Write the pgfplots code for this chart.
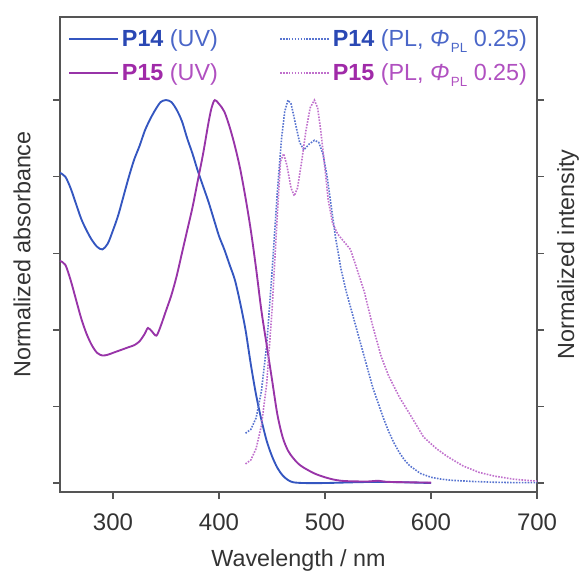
\documentclass[border=0pt]{standalone}
\usepackage{pgfplots}
\pgfplotsset{compat=1.18}
\usepackage{fontspec}
\setmainfont{Liberation Sans}
\definecolor{bluA}{HTML}{3456C0}
\definecolor{magA}{HTML}{9834A8}
\definecolor{bluP}{HTML}{5874D0}
\definecolor{magP}{HTML}{C070CC}
\definecolor{bluT}{HTML}{2A48B4}
\definecolor{bluL}{HTML}{4A66C8}
\definecolor{magT}{HTML}{A02AA8}
\definecolor{magL}{HTML}{B050C0}
\definecolor{axgray}{HTML}{555555}
\definecolor{txgray}{HTML}{333333}
\newcommand{\phipl}{{\itshape Φ}\kern1pt\raisebox{-0.5ex}{\fontsize{10}{12}\selectfont PL}}
\begin{document}
\begin{tikzpicture}[x=1pt,y=1pt]
\begin{axis}[
  scale only axis,
  width=357.75pt, height=356.25pt,
  xmin=250, xmax=700, ymin=-0.0235, ymax=1.217,
  xtick={300,400,500,600,700},
  ytick={0,0.2,0.4,0.6,0.8,1.0},
  yticklabels={},
  xtick pos=bottom,
  tick align=outside,
  major tick length=5pt,
  axis line style={axgray, line width=1.2pt},
  every tick/.style={axgray, line width=1pt},
  tick label style={font=\fontsize{18}{21}\selectfont, text=txgray},
  xticklabel style={yshift=-7.5pt},
  /pgf/number format/assume math mode=true,
  xlabel={Wavelength / nm},
  xlabel style={font=\fontsize{17.5}{20}\selectfont, text=txgray, at={(rel axis cs:0.5,-0.145)}, anchor=center},
  ylabel={Normalized absorbance},
  ylabel style={font=\fontsize{17.5}{20}\selectfont, text=txgray, at={(rel axis cs:-0.0797,0.5)}, anchor=center, rotate=0},
  clip=false,
  legend columns=2,
  legend cell align=left,
  legend style={draw=none, fill=none, at={(rel axis cs:0.008,0.985)}, anchor=north west,
    font=\fontsize{17.5}{20}\selectfont, row sep=7pt,
    /tikz/every even column/.style={column sep=44pt}},
  legend image code/.code={\draw[#1] (0pt,0pt) -- (37pt,0pt);},
]
% P14 UV
\addplot[bluA, line width=1.4pt, smooth] coordinates {
(250,0.81)(255,0.80)(260,0.77)(265,0.73)(270,0.69)(275,0.66)(280,0.635)(285,0.617)(290,0.61)(295,0.625)
(300,0.66)(305,0.70)(310,0.75)(315,0.80)(320,0.845)(325,0.88)(330,0.92)(335,0.95)(340,0.975)(345,0.995)
(350,1.0)(355,0.995)(360,0.975)(365,0.945)(370,0.90)(375,0.86)(380,0.815)(385,0.775)(390,0.735)(395,0.69)
(400,0.645)(405,0.61)(410,0.57)(415,0.53)(420,0.47)(425,0.40)(430,0.31)(435,0.23)(440,0.165)(445,0.11)
(450,0.07)(455,0.04)(460,0.02)(465,0.008)(470,0.002)(480,0)(500,0)(550,0.003)(600,0)};
% P14 PL
\addplot[bluP, line width=1.2pt, densely dotted] coordinates {
(425,0.13)(430,0.14)(435,0.17)(440,0.24)(445,0.36)(450,0.55)(455,0.76)(459,0.90)(462,0.97)(465,1.0)
(468,0.99)(472,0.94)(476,0.89)(480,0.87)(485,0.885)(490,0.895)(494,0.89)(498,0.86)(502,0.80)(505,0.74)
(510,0.64)(515,0.56)(520,0.50)(525,0.45)(530,0.40)(535,0.35)(540,0.30)(545,0.25)(550,0.21)(555,0.17)
(560,0.135)(565,0.105)(570,0.08)(575,0.06)(580,0.045)(590,0.025)(600,0.015)(610,0.01)(620,0.007)(640,0.004)
(660,0.002)(680,0.001)(700,0.001)};
% P15 UV
\addplot[magA, line width=1.4pt, smooth] coordinates {
(250,0.58)(255,0.57)(260,0.53)(265,0.48)(270,0.43)(275,0.39)(280,0.36)(285,0.34)(290,0.333)(295,0.335)
(300,0.34)(305,0.345)(310,0.35)(315,0.355)(320,0.36)(325,0.37)(330,0.39)(333,0.405)(337,0.395)(341,0.385)
(345,0.41)(350,0.45)(355,0.49)(360,0.54)(365,0.60)(370,0.66)(375,0.72)(380,0.79)(385,0.86)(390,0.94)
(393,0.98)(396,1.0)(400,0.99)(405,0.97)(410,0.93)(415,0.88)(420,0.82)(425,0.745)(430,0.66)(435,0.56)
(440,0.45)(445,0.36)(450,0.27)(455,0.18)(460,0.12)(465,0.085)(470,0.065)(475,0.05)(480,0.04)(490,0.025)
(500,0.015)(510,0.008)(520,0.005)(540,0.004)(550,0.006)(560,0.003)(600,0.001)};
% P15 PL
\addplot[magP, line width=1.2pt, densely dotted] coordinates {
(425,0.05)(430,0.06)(435,0.09)(440,0.15)(445,0.26)(450,0.45)(455,0.70)(458,0.84)(461,0.86)(464,0.83)
(468,0.77)(471,0.75)(474,0.77)(478,0.84)(482,0.92)(486,0.98)(490,1.0)(493,0.98)(496,0.92)(500,0.82)
(503,0.74)(507,0.68)(512,0.65)(518,0.63)(524,0.61)(530,0.56)(537,0.50)(545,0.41)(553,0.33)(560,0.28)
(570,0.225)(580,0.18)(593,0.12)(605,0.09)(615,0.07)(630,0.045)(645,0.028)(660,0.018)(678,0.01)(690,0.007)
(700,0.005)};
\legend{
  {\textcolor{bluT}{\textbf{P14}}\textcolor{bluL}{\ (UV)}},
  {\textcolor{bluT}{\textbf{P14}}\textcolor{bluL}{\ (PL, \phipl\ 0.25)}},
  {\textcolor{magT}{\textbf{P15}}\textcolor{magL}{\ (UV)}},
  {\textcolor{magT}{\textbf{P15}}\textcolor{magL}{\ (PL, \phipl\ 0.25)}}
}
\node[rotate=90, font=\fontsize{17.5}{20}\selectfont, text=txgray] at (rel axis cs:1.065,0.5) {Normalized intensity};
\path (rel axis cs:-0.1258,-0.1684) rectangle (rel axis cs:1.0985,1.0358);
\end{axis}
\end{tikzpicture}
\end{document}
